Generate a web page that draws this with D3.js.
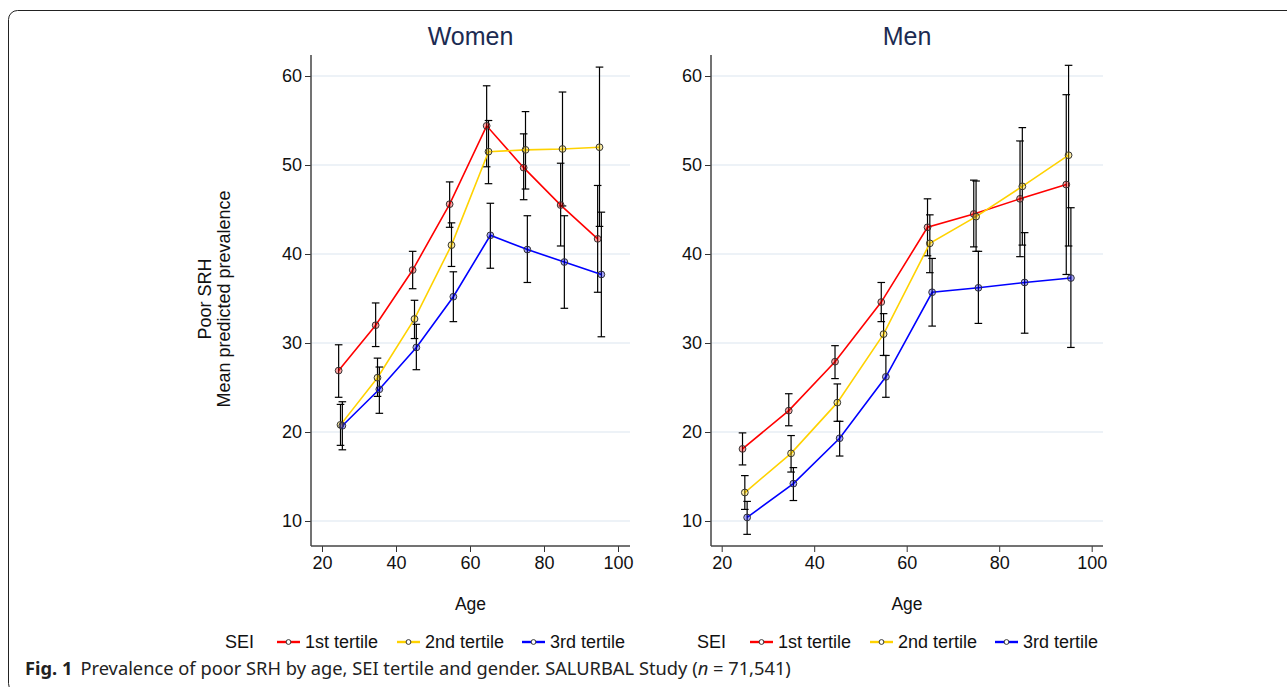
<!DOCTYPE html>
<html>
<head>
<meta charset="utf-8">
<script src="https://cdn.jsdelivr.net/npm/d3@7"></script>
<style>
  body { margin: 0; background: #fff; }
  svg { display: block; font-family: "Liberation Sans", Arial, sans-serif; }
</style>
</head>
<body>
<svg id="chart" width="1287" height="687"></svg>
<script>
// age groups (midpoints) and tick labels
var ages = [25, 35, 45, 55, 65, 75, 85, 95];
var xTicks = [20, 40, 60, 80, 100];
var yTicks = [10, 20, 30, 40, 50, 60];
var tertiles = ["1st tertile", "2nd tertile", "3rd tertile"];

// Women: mean predicted prevalence with 95% CI
var womenT1   = [26.9, 32.0, 38.2, 45.6, 54.4, 49.7, 45.5, 41.7];
var womenT1Lo = [23.9, 29.6, 36.1, 43.0, 49.8, 46.1, 40.9, 35.7];
var womenT1Hi = [29.8, 34.5, 40.3, 48.1, 58.9, 53.5, 50.2, 47.7];
var womenT2   = [20.8, 26.1, 32.7, 41.0, 51.5, 51.7, 51.8, 52.0];
var womenT2Lo = [18.5, 24.0, 30.5, 38.6, 47.9, 47.3, 45.4, 43.1];
var womenT2Hi = [23.1, 28.3, 34.8, 43.5, 55.0, 56.0, 58.2, 61.0];
var womenT3   = [20.7, 24.8, 29.5, 35.2, 42.1, 40.5, 39.1, 37.7];
var womenT3Lo = [18.0, 22.1, 27.0, 32.4, 38.4, 36.8, 33.9, 30.7];
var womenT3Hi = [23.4, 27.3, 32.1, 38.0, 45.7, 44.3, 44.3, 44.7];

// Men
var menT1   = [18.1, 22.4, 27.9, 34.6, 43.0, 44.5, 46.2, 47.8];
var menT1Lo = [16.3, 20.7, 26.0, 32.4, 39.8, 40.8, 39.7, 37.7];
var menT1Hi = [19.9, 24.3, 29.7, 36.8, 46.2, 48.3, 52.7, 57.9];
var menT2   = [13.2, 17.6, 23.3, 31.0, 41.2, 44.2, 47.6, 51.1];
var menT2Lo = [11.3, 15.5, 21.2, 28.6, 37.9, 40.3, 41.0, 40.9];
var menT2Hi = [15.1, 19.6, 25.4, 33.3, 44.4, 48.2, 54.2, 61.2];
var menT3   = [10.4, 14.2, 19.3, 26.2, 35.7, 36.2, 36.8, 37.3];
var menT3Lo = [ 8.5, 12.3, 17.3, 23.9, 31.9, 32.2, 31.1, 29.5];
var menT3Hi = [12.2, 16.0, 21.2, 28.6, 39.5, 40.3, 42.4, 45.2];

var colors = ["#ff0000", "#ffd200", "#0000ff"];
var dodge = [-0.5, 0, 0.5];

var svg = d3.select("#chart");

// outer frame of the figure box
svg.append("rect")
    .attr("x", 8.5).attr("y", 10.5)
    .attr("width", 1320).attr("height", 682)
    .attr("rx", 9)
    .attr("fill", "none")
    .attr("stroke", "#222")
    .attr("stroke-width", 1);

var panels = [
    { title: "Women", left: 311, right: 630, x20: 322, x100: 618,
      series: [[womenT1, womenT1Lo, womenT1Hi], [womenT2, womenT2Lo, womenT2Hi], [womenT3, womenT3Lo, womenT3Hi]],
      legendX: 225, legendItems: [277, 397, 522] },
    { title: "Men", left: 711, right: 1103, x20: 721.7, x100: 1091.7,
      series: [[menT1, menT1Lo, menT1Hi], [menT2, menT2Lo, menT2Hi], [menT3, menT3Lo, menT3Hi]],
      legendX: 697, legendItems: [750, 870, 995] }
];

var plotTop = 55, plotBottom = 546;
var y = d3.scaleLinear().domain([10, 60]).range([521, 76]);

panels.forEach(function(p) {
    var x = d3.scaleLinear().domain([20, 100]).range([p.x20, p.x100]);
    var g = svg.append("g");
    var mid = (p.left + p.right) / 2;

    // grid lines
    g.selectAll(".grid").data(yTicks).enter().append("line")
        .attr("x1", p.left).attr("x2", p.right)
        .attr("y1", function(d) { return y(d); })
        .attr("y2", function(d) { return y(d); })
        .attr("stroke", "#e7eef4")
        .attr("stroke-width", 1.5);

    // axes
    var yAxis = g.append("g")
        .attr("transform", "translate(" + p.left + ",0)")
        .call(d3.axisLeft(y).tickValues(yTicks).tickSize(6).tickPadding(3));
    var xAxis = g.append("g")
        .attr("transform", "translate(0," + plotBottom + ")")
        .call(d3.axisBottom(x).tickValues(xTicks).tickSize(6).tickPadding(4));
    [yAxis, xAxis].forEach(function(a) {
        a.select(".domain").remove();
        a.selectAll("line").attr("stroke", "#333").attr("stroke-width", 1);
        a.selectAll("text").attr("fill", "#111").style("font-size", "18px")
            .style("font-family", "Liberation Sans, Arial, sans-serif");
    });
    g.append("line").attr("x1", p.left).attr("x2", p.left).attr("y1", plotTop).attr("y2", plotBottom)
        .attr("stroke", "#444").attr("stroke-width", 1.5);
    g.append("line").attr("x1", p.left).attr("x2", p.right).attr("y1", plotBottom).attr("y2", plotBottom)
        .attr("stroke", "#444").attr("stroke-width", 1.5);

    // titles
    g.append("text").attr("x", mid).attr("y", 45)
        .attr("text-anchor", "middle").style("font-size", "25px").attr("fill", "#1c2b52")
        .text(p.title);
    g.append("text").attr("x", mid).attr("y", 610)
        .attr("text-anchor", "middle").style("font-size", "17.5px").attr("fill", "#111")
        .text("Age");

    var line = d3.line()
        .x(function(d) { return d.x; })
        .y(function(d) { return d.y; });

    p.series.forEach(function(s, k) {
        var pts = ages.map(function(a, i) {
            return { x: x(a + dodge[k]), y: y(s[0][i]), lo: y(s[1][i]), hi: y(s[2][i]) };
        });
        g.append("path").datum(pts)
            .attr("d", line)
            .attr("fill", "none")
            .attr("stroke", colors[k])
            .attr("stroke-width", 1.6);
        var bars = g.append("g");
        bars.selectAll("line.v").data(pts).enter().append("line")
            .attr("x1", function(d) { return d.x; }).attr("x2", function(d) { return d.x; })
            .attr("y1", function(d) { return d.lo; }).attr("y2", function(d) { return d.hi; })
            .attr("stroke", "#000").attr("stroke-width", 1.2);
        ["lo", "hi"].forEach(function(key) {
            bars.selectAll("line." + key).data(pts).enter().append("line")
                .attr("x1", function(d) { return d.x - 3.8; }).attr("x2", function(d) { return d.x + 3.8; })
                .attr("y1", function(d) { return d[key]; }).attr("y2", function(d) { return d[key]; })
                .attr("stroke", "#000").attr("stroke-width", 1.2);
        });
    });

    p.series.forEach(function(s, k) {
        g.selectAll(null).data(ages).enter().append("circle")
            .attr("cx", function(a) { return x(a + dodge[k]); })
            .attr("cy", function(a, i) { return y(s[0][i]); })
            .attr("r", 3.4)
            .attr("fill", colors[k])
            .attr("fill-opacity", 0.35)
            .attr("stroke", "#333")
            .attr("stroke-width", 1);
    });

    // legend
    var ly = 642;
    g.append("text").attr("x", p.legendX).attr("y", ly + 6)
        .style("font-size", "18px").attr("fill", "#111").text("SEI");
    p.legendItems.forEach(function(lx, k) {
        g.append("line").attr("x1", lx).attr("x2", lx + 23).attr("y1", ly).attr("y2", ly)
            .attr("stroke", colors[k]).attr("stroke-width", 2.4);
        g.append("circle").attr("cx", lx + 11.5).attr("cy", ly).attr("r", 2.4)
            .attr("fill", "#fff").attr("stroke", "#333").attr("stroke-width", 1);
        g.append("text").attr("x", lx + 28).attr("y", ly + 6)
            .style("font-size", "18px").attr("fill", "#111").text(tertiles[k]);
    });
});

// y axis title (shared, left panel)
var yt = svg.append("text")
    .attr("transform", "translate(211,299) rotate(-90)")
    .attr("text-anchor", "middle")
    .style("font-size", "18px").attr("fill", "#111");
yt.append("tspan").attr("x", 0).attr("dy", 0).text("Poor SRH");
yt.append("tspan").attr("x", 0).attr("dy", 18.5).text("Mean predicted prevalence");

// caption
var cap = svg.append("text").attr("x", 25).attr("y", 675)
    .style("font-family", "'Noto Sans', 'Open Sans', sans-serif")
    .style("font-size", "18.3px").attr("fill", "#222");
cap.append("tspan").style("font-weight", "bold").text("Fig. 1");
cap.append("tspan").attr("dx", 8).text("Prevalence of poor SRH by age, SEI tertile and gender. SALURBAL Study (");
cap.append("tspan").style("font-style", "italic").text("n");
cap.append("tspan").text(" = 71,541)");
</script>
</body>
</html>
